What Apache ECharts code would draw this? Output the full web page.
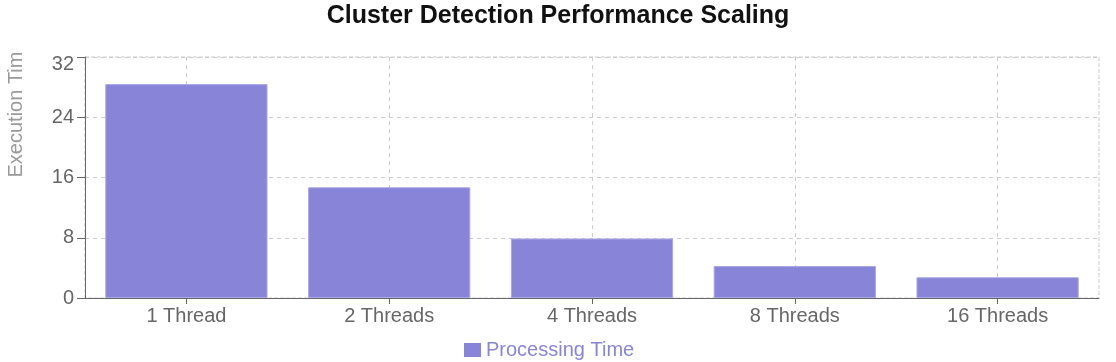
<!DOCTYPE html>
<html>
<head>
<meta charset="utf-8">
<script src="https://cdn.jsdelivr.net/npm/echarts@6/dist/echarts.min.js"></script>
<style>
html,body{margin:0;padding:0;background:#fff;}
#main{width:1116px;height:362px;}
</style>
</head>
<body>
<div id="main"></div>
<script>
const categories = ['1 Thread', '2 Threads', '4 Threads', '8 Threads', '16 Threads'];
const processingTime = [28.4, 14.7, 7.9, 4.25, 2.75];
const yTicks = [0, 8, 16, 24, 32];

const chart = echarts.init(document.getElementById('main'));
const font = '"Liberation Sans", Arial, sans-serif';
const yMax = yTicks[yTicks.length - 1];
chart.setOption({
  animation: false,
  textStyle: { fontFamily: font },
  title: {
    text: 'Cluster Detection Performance Scaling',
    left: 'center',
    top: 4,
    padding: 0,
    textStyle: { fontSize: 25, fontWeight: 'bold', color: '#111', fontFamily: font }
  },
  legend: {
    bottom: 2,
    left: 464,
    padding: 0,
    itemWidth: 17,
    itemHeight: 14,
    icon: 'rect',
    itemStyle: { borderWidth: 0 },
    textStyle: { fontSize: 20, color: '#8884d8', fontFamily: font },
    data: ['Processing Time']
  },
  grid: {
    left: 85, right: 17, top: 57, bottom: 64,
    outerBoundsMode: 'none',
    containLabel: false,
    show: true,
    borderColor: '#ccc',
    borderWidth: 1,
    borderType: 'dashed',
    backgroundColor: 'transparent'
  },
  xAxis: {
    type: 'category',
    data: categories,
    axisLine: { lineStyle: { color: '#666', width: 1 } },
    axisTick: { show: true, alignWithLabel: true, length: 6, lineStyle: { color: '#666' } },
    axisLabel: { fontSize: 20, color: '#666', margin: 8, fontFamily: font },
    splitLine: { show: true, alignWithLabel: true, lineStyle: { color: '#ccc', type: [4, 4] } }
  },
  yAxis: {
    type: 'value',
    min: yTicks[0],
    max: yMax,
    interval: 8,
    name: 'Execution Tim',
    nameLocation: 'middle',
    nameGap: 59,
    nameRotate: 90,
    nameTextStyle: { fontSize: 20, color: '#999', align: 'left', fontFamily: font },
    axisLine: { show: true, lineStyle: { color: '#666', width: 1 } },
    axisTick: { show: true, length: 8, lineStyle: { color: '#666' } },
    axisLabel: {
      fontSize: 20, color: '#666', margin: 11, fontFamily: font,
      formatter: function (v) { return v === yMax ? '{top|' + v + '}' : String(v); },
      rich: { top: { fontSize: 20, color: '#666', fontFamily: font, padding: [14, 0, 0, 0] } }
    },
    splitLine: { show: true, lineStyle: { color: '#ccc', type: [4, 4] } }
  },
  series: [{
    name: 'Processing Time',
    type: 'bar',
    data: processingTime,
    barCategoryGap: '20%',
    itemStyle: { color: '#8884d8', borderColor: '#aaa7e6', borderWidth: 1 }
  }]
});
</script>
</body>
</html>
